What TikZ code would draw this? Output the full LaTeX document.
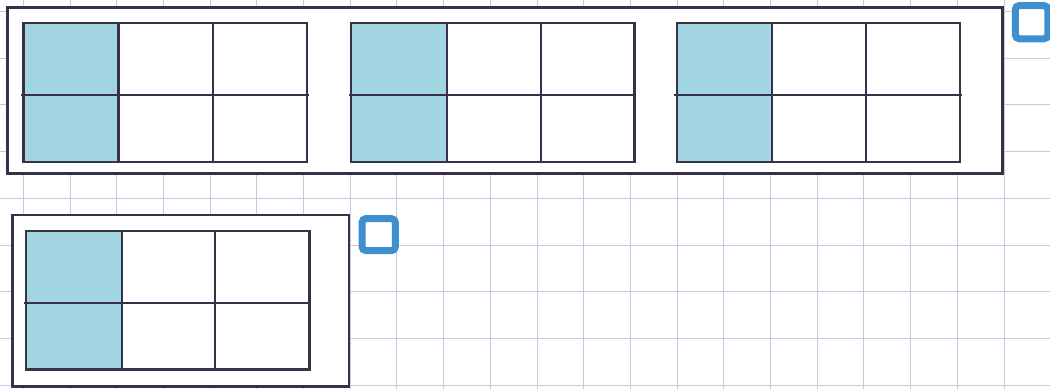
\documentclass[tikz,border=0pt]{standalone}
\definecolor{gridc}{HTML}{D4C3E0}
\definecolor{ink}{HTML}{37324A}
\definecolor{cellblue}{HTML}{A2D5E2}
\definecolor{tickblue}{HTML}{3F8FCF}
\newcommand\sixbox[7]{% left, divider 1, divider 2, right, top, middle, bottom
  \fill[fill=cellblue] (#1,#5) rectangle (#2,#7);
  \draw[boxline] (#1,#5) rectangle (#4,#7);
  \draw[boxline] (#2,#5) -- (#2,#7) (#3,#5) -- (#3,#7);
  \draw[boxline] ({#1-2.5},#6) -- ({#4+2},#6);
}
\begin{document}
\begin{tikzpicture}[x=1pt,y=-1pt,
  boxline/.style={draw=ink,line width=2.4pt},
  frame/.style={draw=ink,line width=2.5pt,fill=white},
  checkbox/.style={draw=tickblue,line width=7pt,rounded corners=4pt,fill=white},
  gridline/.style={draw=gridc,line width=1pt}]
\useasboundingbox (0,0) rectangle (1050,389);
\fill[white] (0,0) rectangle (1050,389);
% background grid
\foreach \i in {0,...,22} \draw[gridline] ({23.3+46.7*\i},0) -- ({23.3+46.7*\i},389);
\foreach \j in {0,...,8} \draw[gridline] (0,{11.5+46.7*\j}) -- (1050,{11.5+46.7*\j});
% frames
\draw[frame] (7.5,7.5) rectangle (1002.7,173.3);
\draw[frame] (12.7,215) rectangle (349,386.7);
% top row of boxes
\sixbox{23.3}{118.3}{212.7}{306.7}{22.7}{95}{161.7}
\sixbox{351}{446.7}{540.7}{634.3}{22.7}{95}{161.7}
\sixbox{676.7}{771.7}{866}{960}{22.7}{95}{161.7}
% bottom box
\sixbox{26}{121.7}{215}{309.3}{231}{302.7}{369.3}
% checkboxes
\draw[checkbox] (1015.3,5.5) rectangle (1047.8,38.8);
\draw[checkbox] (362,218.6) rectangle (395.4,250.6);
\end{tikzpicture}
\end{document}
